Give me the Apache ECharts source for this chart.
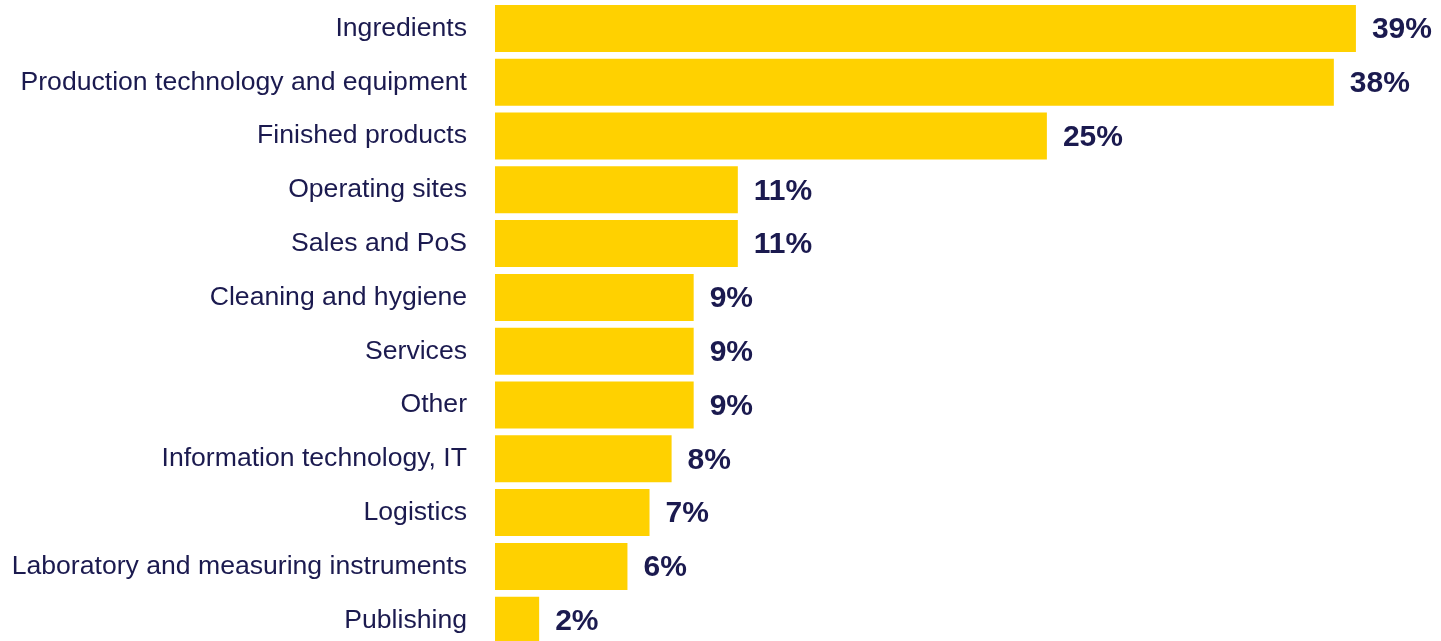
<!DOCTYPE html>
<html>
<head>
<meta charset="utf-8">
<style>
  html, body { margin: 0; padding: 0; background: #ffffff; }
  #chart { width: 1441px; height: 641px; }
</style>
<script src="https://cdn.jsdelivr.net/npm/echarts@6/dist/echarts.min.js"></script>
</head>
<body>
<div id="chart"></div>
<script>
// Share of respondents by area of interest (%)
const categories = [
  'Ingredients',
  'Production technology and equipment',
  'Finished products',
  'Operating sites',
  'Sales and PoS',
  'Cleaning and hygiene',
  'Services',
  'Other',
  'Information technology, IT',
  'Logistics',
  'Laboratory and measuring instruments',
  'Publishing'
];
const shares = [39, 38, 25, 11, 11, 9, 9, 9, 8, 7, 6, 2];

const navy = '#1b1a4f';
const yellow = '#ffd100';
const font = "'Liberation Sans', Arial, sans-serif";

const chart = echarts.init(document.getElementById('chart'), null, { renderer: 'canvas' });
chart.setOption({
  animation: false,
  backgroundColor: '#ffffff',
  grid: { left: 495, top: 1.5, width: 883, height: 645.6, outerBoundsMode: 'none', containLabel: false },
  xAxis: {
    type: 'value',
    min: 0,
    max: 40,
    show: false
  },
  yAxis: {
    type: 'category',
    data: categories,
    inverse: true,
    axisLine: { show: false },
    axisTick: { show: false },
    splitLine: { show: false },
    axisLabel: {
      margin: 28,
      color: navy,
      fontFamily: font,
      fontSize: 26.6
    }
  },
  series: [{
    type: 'bar',
    data: shares,
    barWidth: 47,
    itemStyle: { color: yellow },
    label: {
      show: true,
      position: 'right',
      distance: 16,
      formatter: '{c}%',
      color: navy,
      fontFamily: font,
      fontWeight: 'bold',
      fontSize: 30,
      offset: [0, 1.5]
    }
  }]
});
</script>
</body>
</html>
